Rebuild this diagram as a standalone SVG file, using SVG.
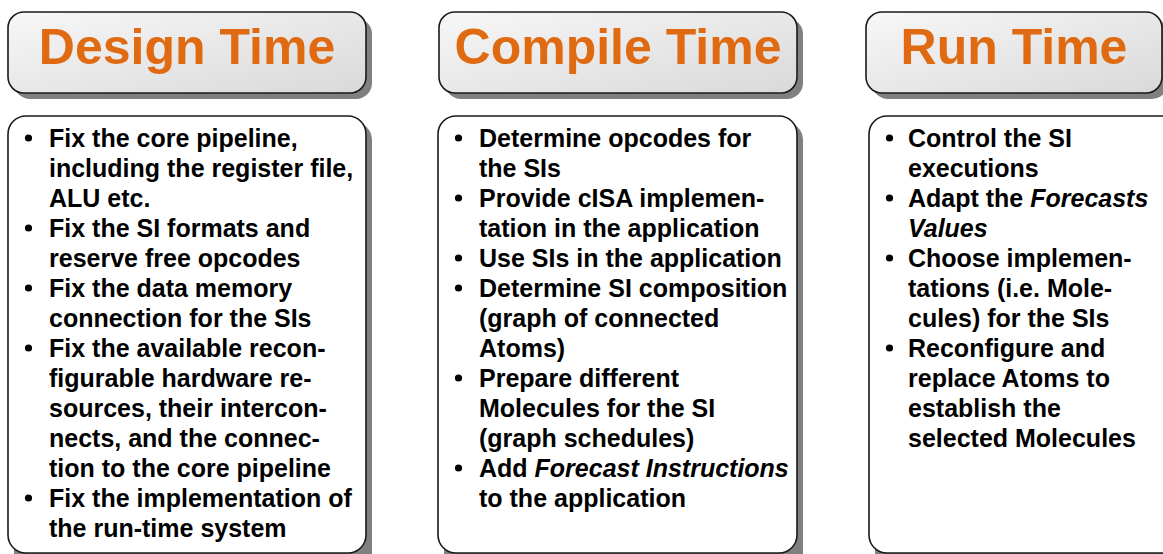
<svg xmlns="http://www.w3.org/2000/svg" width="1163" height="554" viewBox="0 0 1163 554">
  <defs>
    <linearGradient id="headFill" x1="0" y1="0" x2="1" y2="1">
      <stop offset="0" stop-color="#f7f7f7"/>
      <stop offset="1" stop-color="#d9d9d9"/>
    </linearGradient>
  </defs>
  <style>
    .shadow { fill: #808080; }
    .head { fill: url(#headFill); stroke: #1a1a1a; stroke-width: 1.6; }
    .body { fill: #ffffff; stroke: #1a1a1a; stroke-width: 1.6; }
    .title { font-family: "Liberation Sans", Arial, sans-serif; font-weight: bold; font-size: 50px; fill: #df6a12; text-anchor: middle; }
    .item { font-family: "Liberation Sans", Arial, sans-serif; font-weight: bold; font-size: 25px; fill: #000000; }
    .em { font-style: italic; }
    .dot { fill: #000000; }
  </style>
  <rect width="1163" height="554" fill="#ffffff"/>

  <!-- Design Time column -->
  <g id="design-head">
    <rect class="shadow" x="14" y="18" width="358" height="81" rx="16"/>
    <rect class="head" x="8" y="12" width="358" height="81" rx="16"/>
    <text class="title" x="187" y="64">Design Time</text>
  </g>
  <g id="design-body">
    <rect class="shadow" x="14" y="122" width="358" height="460" rx="18"/>
    <rect class="body" x="8" y="116" width="358" height="437" rx="18"/>
    <circle class="dot" cx="28.5" cy="138" r="3.6"/>
    <circle class="dot" cx="28.5" cy="228" r="3.6"/>
    <circle class="dot" cx="28.5" cy="288" r="3.6"/>
    <circle class="dot" cx="28.5" cy="348" r="3.6"/>
    <circle class="dot" cx="28.5" cy="498" r="3.6"/>
    <text class="item">
      <tspan x="49" y="146.5">Fix the core pipeline,</tspan>
      <tspan x="49" y="176.5">including the register file,</tspan>
      <tspan x="49" y="206.5">ALU etc.</tspan>
      <tspan x="49" y="236.5">Fix the SI formats and</tspan>
      <tspan x="49" y="266.5">reserve free opcodes</tspan>
      <tspan x="49" y="296.5">Fix the data memory</tspan>
      <tspan x="49" y="326.5">connection for the SIs</tspan>
      <tspan x="49" y="356.5">Fix the available recon-</tspan>
      <tspan x="49" y="386.5">figurable hardware re-</tspan>
      <tspan x="49" y="416.5">sources, their intercon-</tspan>
      <tspan x="49" y="446.5">nects, and the connec-</tspan>
      <tspan x="49" y="476.5">tion to the core pipeline</tspan>
      <tspan x="49" y="506.5">Fix the implementation of</tspan>
      <tspan x="49" y="536.5">the run-time system</tspan>
    </text>
  </g>

  <!-- Compile Time column -->
  <g id="compile-head">
    <rect class="shadow" x="445" y="18" width="358" height="81" rx="16"/>
    <rect class="head" x="439" y="12" width="358" height="81" rx="16"/>
    <text class="title" x="618" y="64">Compile Time</text>
  </g>
  <g id="compile-body">
    <rect class="shadow" x="444" y="122" width="359" height="460" rx="18"/>
    <rect class="body" x="438" y="116" width="359" height="437" rx="18"/>
    <circle class="dot" cx="458.5" cy="138" r="3.6"/>
    <circle class="dot" cx="458.5" cy="198" r="3.6"/>
    <circle class="dot" cx="458.5" cy="258" r="3.6"/>
    <circle class="dot" cx="458.5" cy="288" r="3.6"/>
    <circle class="dot" cx="458.5" cy="378" r="3.6"/>
    <circle class="dot" cx="458.5" cy="468" r="3.6"/>
    <text class="item">
      <tspan x="479" y="146.5">Determine opcodes for</tspan>
      <tspan x="479" y="176.5">the SIs</tspan>
      <tspan x="479" y="206.5">Provide cISA implemen-</tspan>
      <tspan x="479" y="236.5">tation in the application</tspan>
      <tspan x="479" y="266.5">Use SIs in the application</tspan>
      <tspan x="479" y="296.5">Determine SI composition</tspan>
      <tspan x="479" y="326.5">(graph of connected</tspan>
      <tspan x="479" y="356.5">Atoms)</tspan>
      <tspan x="479" y="386.5">Prepare different</tspan>
      <tspan x="479" y="416.5">Molecules for the SI</tspan>
      <tspan x="479" y="446.5">(graph schedules)</tspan>
      <tspan x="479" y="476.5">Add <tspan class="em">Forecast Instructions</tspan></tspan>
      <tspan x="479" y="506.5">to the application</tspan>
    </text>
  </g>

  <!-- Run Time column -->
  <g id="run-head">
    <rect class="shadow" x="872" y="18" width="296" height="81" rx="16"/>
    <rect class="head" x="866" y="12" width="296" height="81" rx="16"/>
    <text class="title" x="1014" y="64">Run Time</text>
  </g>
  <g id="run-body">
    <rect class="shadow" x="875" y="122" width="320" height="460" rx="18"/>
    <rect class="body" x="869" y="116" width="320" height="437" rx="18"/>
    <circle class="dot" cx="889.5" cy="138" r="3.6"/>
    <circle class="dot" cx="889.5" cy="198" r="3.6"/>
    <circle class="dot" cx="889.5" cy="258" r="3.6"/>
    <circle class="dot" cx="889.5" cy="348" r="3.6"/>
    <text class="item">
      <tspan x="908" y="146.5">Control the SI</tspan>
      <tspan x="908" y="176.5">executions</tspan>
      <tspan x="908" y="206.5">Adapt the <tspan class="em">Forecasts</tspan></tspan>
      <tspan x="908" y="236.5" class="em">Values</tspan>
      <tspan x="908" y="266.5">Choose implemen-</tspan>
      <tspan x="908" y="296.5">tations (i.e. Mole-</tspan>
      <tspan x="908" y="326.5">cules) for the SIs</tspan>
      <tspan x="908" y="356.5">Reconfigure and</tspan>
      <tspan x="908" y="386.5">replace Atoms to</tspan>
      <tspan x="908" y="416.5">establish the</tspan>
      <tspan x="908" y="446.5">selected Molecules</tspan>
    </text>
  </g>

  <!-- no connectors in this figure -->
  <g id="connectors"/>
</svg>
